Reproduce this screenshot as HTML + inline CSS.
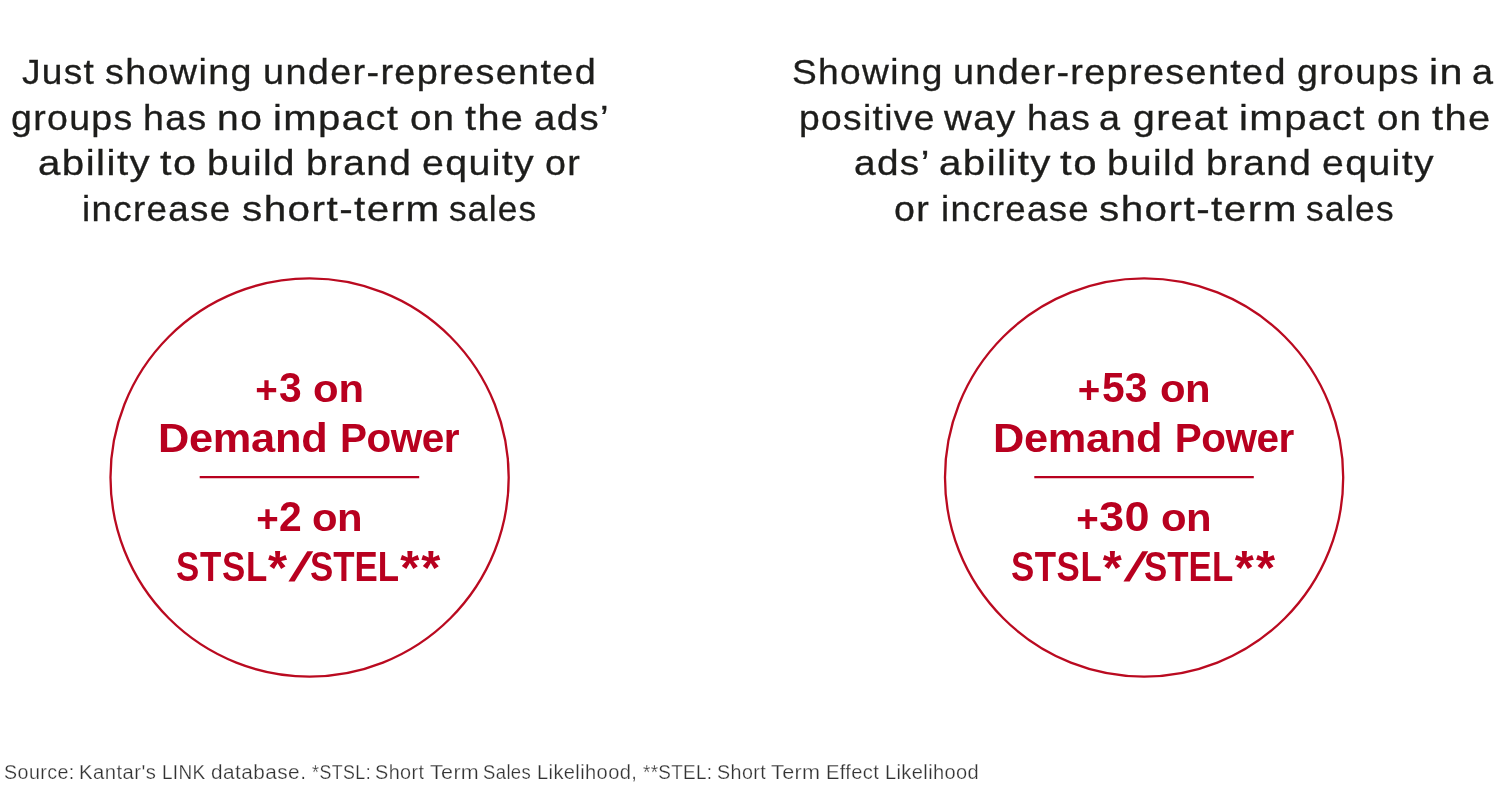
<!DOCTYPE html>
<html lang="en">
<head>
<meta charset="utf-8">
<title>Under-represented groups in ads</title>
<style>
html,body{margin:0;padding:0;background:#fff}
body{width:1500px;height:800px;position:relative;overflow:hidden;font-family:"Liberation Sans",sans-serif}
.ln{margin:0;padding:0;line-height:1}
.w{position:absolute;white-space:pre;line-height:1}
.h{color:#1d1d1b;font-weight:400;font-size:35.0px;-webkit-text-stroke:0.3px #1d1d1b}
.h .w{transform:scaleX(1.08);transform-origin:0 50%}
.b{color:#b8001f;font-weight:700;font-size:40.5px;-webkit-text-stroke:0}
.f{color:#333333;font-weight:400;font-size:20.0px;-webkit-text-stroke:0.25px #fff}
#art{position:absolute;left:0;top:0;width:1500px;height:800px;overflow:visible}
#h1a0{left:21.85px;top:54.37px;letter-spacing:1.210px;transform:scaleX(1.0606);transform-origin:0 50%}
#h1a1{left:105.27px;top:54.37px;letter-spacing:1.253px;transform:scaleX(1.0773);transform-origin:0 50%}
#h1a2{left:262.75px;top:54.37px;letter-spacing:1.256px}
#h1b0{left:10.93px;top:100.37px;letter-spacing:1.237px;transform:scaleX(1.0716);transform-origin:0 50%}
#h1b1{left:143.01px;top:100.37px;letter-spacing:1.273px;transform:scaleX(1.0703);transform-origin:0 50%}
#h1b2{left:216.83px;top:100.37px;letter-spacing:1.349px;transform:scaleX(1.1133);transform-origin:0 50%}
#h1b3{left:272.53px;top:100.37px;letter-spacing:1.229px;transform:scaleX(1.1442);transform-origin:0 50%}
#h1b4{left:409.96px;top:100.37px;letter-spacing:1.067px;transform:scaleX(1.1013);transform-origin:0 50%}
#h1b5{left:464.71px;top:100.37px;letter-spacing:1.188px;transform:scaleX(1.1343);transform-origin:0 50%}
#h1b6{left:533.94px;top:100.37px;letter-spacing:1.277px;transform:scaleX(1.0970);transform-origin:0 50%}
#h1c0{left:37.77px;top:145.37px;letter-spacing:1.283px;transform:scaleX(1.1491);transform-origin:0 50%}
#h1c1{left:159.69px;top:145.37px;letter-spacing:1.265px;transform:scaleX(1.1785);transform-origin:0 50%}
#h1c2{left:206.83px;top:145.37px;letter-spacing:1.168px;transform:scaleX(1.1132);transform-origin:0 50%}
#h1c3{left:306.30px;top:145.37px;letter-spacing:1.230px;transform:scaleX(1.1092);transform-origin:0 50%}
#h1c4{left:422.27px;top:145.37px;letter-spacing:1.235px;transform:scaleX(1.1216);transform-origin:0 50%}
#h1c5{left:545.02px;top:145.37px;letter-spacing:1.176px;transform:scaleX(1.0748);transform-origin:0 50%}
#h1d0{left:82.33px;top:191.37px;letter-spacing:1.250px;transform:scaleX(1.0500);transform-origin:0 50%}
#h1d1{left:241.93px;top:191.37px;letter-spacing:1.239px;transform:scaleX(1.1564);transform-origin:0 50%}
#h1d2{left:448.82px;top:191.37px;letter-spacing:1.175px;transform:scaleX(1.0087);transform-origin:0 50%}
#h2a0{left:792.39px;top:54.37px;letter-spacing:1.255px;transform:scaleX(1.0606);transform-origin:0 50%}
#h2a1{left:953.26px;top:54.37px;letter-spacing:1.252px;transform:scaleX(1.0795);transform-origin:0 50%}
#h2a2{left:1296.86px;top:54.37px;letter-spacing:1.250px;transform:scaleX(1.0736);transform-origin:0 50%}
#h2a3{left:1429.17px;top:54.37px;letter-spacing:1.172px;transform:scaleX(1.1803);transform-origin:0 50%}
#h2a4{left:1472.08px;top:54.37px;letter-spacing:0.000px}
#h2b0{left:798.87px;top:100.37px;letter-spacing:1.251px;transform:scaleX(1.0632);transform-origin:0 50%}
#h2b1{left:944.40px;top:100.37px;letter-spacing:1.202px;transform:scaleX(1.1010);transform-origin:0 50%}
#h2b2{left:1027.00px;top:100.37px;letter-spacing:1.278px;transform:scaleX(1.0646);transform-origin:0 50%}
#h2b3{left:1098.74px;top:100.37px;letter-spacing:0.000px}
#h2b4{left:1132.85px;top:100.37px;letter-spacing:1.228px;transform:scaleX(1.1187);transform-origin:0 50%}
#h2b5{left:1239.04px;top:100.37px;letter-spacing:1.226px;transform:scaleX(1.1482);transform-origin:0 50%}
#h2b6{left:1376.96px;top:100.37px;letter-spacing:1.067px;transform:scaleX(1.1013);transform-origin:0 50%}
#h2b7{left:1431.67px;top:100.37px;letter-spacing:1.211px;transform:scaleX(1.1402);transform-origin:0 50%}
#h2c0{left:854.41px;top:145.37px;letter-spacing:1.235px;transform:scaleX(1.1080);transform-origin:0 50%}
#h2c1{left:938.85px;top:145.37px;letter-spacing:1.226px;transform:scaleX(1.1510);transform-origin:0 50%}
#h2c2{left:1060.23px;top:145.37px;letter-spacing:1.374px;transform:scaleX(1.2000);transform-origin:0 50%}
#h2c3{left:1107.22px;top:145.37px;letter-spacing:1.292px;transform:scaleX(1.1092);transform-origin:0 50%}
#h2c4{left:1206.19px;top:145.37px;letter-spacing:1.250px;transform:scaleX(1.1095);transform-origin:0 50%}
#h2c5{left:1322.24px;top:145.37px;letter-spacing:1.294px;transform:scaleX(1.1177);transform-origin:0 50%}
#h2d0{left:894.02px;top:191.37px;letter-spacing:1.176px;transform:scaleX(1.0748);transform-origin:0 50%}
#h2d1{left:941.04px;top:191.37px;letter-spacing:1.228px;transform:scaleX(1.0482);transform-origin:0 50%}
#h2d2{left:1099.03px;top:191.37px;letter-spacing:1.253px;transform:scaleX(1.1559);transform-origin:0 50%}
#h2d3{left:1306.01px;top:191.37px;letter-spacing:1.288px;transform:scaleX(1.0089);transform-origin:0 50%}
#c1a0{left:255.29px;top:371.41px;letter-spacing:0.000px;font-size:38.5px}
#c1a1{left:278.82px;top:367.02px;letter-spacing:0.000px;font-size:42.5px;transform:scaleX(0.9600);transform-origin:0 50%}
#c1a2{left:312.92px;top:368.56px;letter-spacing:-0.171px;font-size:39.5px;transform:scaleX(1.0600);transform-origin:0 50%}
#c1b0{left:158.26px;top:417.72px;letter-spacing:-0.254px;-webkit-text-stroke:0;transform:scaleX(1.0700);transform-origin:0 50%}
#c1b1{left:339.98px;top:417.72px;letter-spacing:-0.501px}
#c1c0{left:256.20px;top:500.41px;letter-spacing:0.000px;font-size:38.5px}
#c1c1{left:278.89px;top:496.02px;letter-spacing:0.000px;font-size:42.5px;transform:scaleX(0.9600);transform-origin:0 50%}
#c1c2{left:311.69px;top:497.56px;letter-spacing:-0.635px;font-size:39.5px;transform:scaleX(1.0600);transform-origin:0 50%}
#c1d0{left:175.94px;top:546.02px;letter-spacing:0.879px;-webkit-text-stroke:0;font-size:42.5px;transform:scaleX(0.8200);transform-origin:0 50%}
#c1d1{left:268.10px;top:542.52px;letter-spacing:0.000px;font-size:49.0px}
#c1d2{left:290.25px;top:547.29px;letter-spacing:0.000px;font-weight:400;-webkit-text-stroke:0;font-size:41.0px;transform:skewX(-6deg) scaleX(1.9);transform-origin:0 50%}
#c1d3{left:309.56px;top:546.02px;letter-spacing:0.003px;-webkit-text-stroke:0;font-size:42.5px;transform:scaleX(0.8200);transform-origin:0 50%}
#c1d4{left:400.22px;top:542.52px;letter-spacing:2.083px;font-size:49.0px}
#c2a0{left:1077.76px;top:371.41px;letter-spacing:0.000px;font-size:38.5px}
#c2a1{left:1101.65px;top:367.02px;letter-spacing:0.091px;font-size:42.5px;transform:scaleX(0.9600);transform-origin:0 50%}
#c2a2{left:1160.02px;top:368.56px;letter-spacing:-0.460px;font-size:39.5px;transform:scaleX(1.0600);transform-origin:0 50%}
#c2b0{left:993.13px;top:417.72px;letter-spacing:-0.290px;-webkit-text-stroke:0;transform:scaleX(1.0700);transform-origin:0 50%}
#c2b1{left:1174.75px;top:417.72px;letter-spacing:-0.495px}
#c2c0{left:1076.21px;top:500.41px;letter-spacing:0.000px;font-size:38.5px}
#c2c1{left:1099.02px;top:496.02px;letter-spacing:0.461px;font-size:42.5px;transform:scaleX(1.0600);transform-origin:0 50%}
#c2c2{left:1161.36px;top:497.56px;letter-spacing:-0.545px;font-size:39.5px;transform:scaleX(1.0600);transform-origin:0 50%}
#c2d0{left:1010.79px;top:546.02px;letter-spacing:0.654px;-webkit-text-stroke:0;font-size:42.5px;transform:scaleX(0.8200);transform-origin:0 50%}
#c2d1{left:1102.75px;top:542.52px;letter-spacing:0.000px;font-size:49.0px}
#c2d2{left:1125.10px;top:547.29px;letter-spacing:0.000px;font-weight:400;-webkit-text-stroke:0;font-size:41.0px;transform:skewX(-6deg) scaleX(1.9);transform-origin:0 50%}
#c2d3{left:1143.82px;top:546.02px;letter-spacing:0.050px;-webkit-text-stroke:0;font-size:42.5px;transform:scaleX(0.8200);transform-origin:0 50%}
#c2d4{left:1234.72px;top:542.52px;letter-spacing:2.251px;font-size:49.0px}
#ft0{left:3.98px;top:762.37px;letter-spacing:0.436px;transform:scaleX(0.9828);transform-origin:0 50%}
#ft1{left:78.79px;top:762.37px;letter-spacing:0.461px;transform:scaleX(1.0116);transform-origin:0 50%}
#ft2{left:161.73px;top:762.37px;letter-spacing:0.352px;transform:scaleX(0.9477);transform-origin:0 50%}
#ft3{left:211.21px;top:762.37px;letter-spacing:0.434px;transform:scaleX(1.0392);transform-origin:0 50%}
#ft4{left:312.04px;top:762.37px;letter-spacing:0.517px;transform:scaleX(0.8895);transform-origin:0 50%}
#ft5{left:375.43px;top:762.37px;letter-spacing:0.420px;transform:scaleX(0.9928);transform-origin:0 50%}
#ft6{left:429.61px;top:762.37px;letter-spacing:0.311px;transform:scaleX(1.0751);transform-origin:0 50%}
#ft7{left:483.40px;top:762.37px;letter-spacing:0.416px;transform:scaleX(0.9242);transform-origin:0 50%}
#ft8{left:537.22px;top:762.37px;letter-spacing:0.386px;transform:scaleX(1.0034);transform-origin:0 50%}
#ft9{left:643.11px;top:762.37px;letter-spacing:0.341px;transform:scaleX(0.9440);transform-origin:0 50%}
#ft10{left:716.57px;top:762.37px;letter-spacing:0.400px;transform:scaleX(0.9853);transform-origin:0 50%}
#ft11{left:770.61px;top:762.37px;letter-spacing:0.333px;transform:scaleX(1.0803);transform-origin:0 50%}
#ft12{left:825.71px;top:762.37px;letter-spacing:0.350px;transform:scaleX(1.0065);transform-origin:0 50%}
#ft13{left:884.51px;top:762.37px;letter-spacing:0.372px;transform:scaleX(1.0034);transform-origin:0 50%}
</style>
</head>
<body>
<svg id="art" width="1500" height="800" viewBox="0 0 1500 800" aria-hidden="true">
<g fill="none" stroke="#ba0a20" stroke-width="2.3">
<circle id="cl" cx="309.6" cy="477.5" r="199.1"/>
<circle id="cr" cx="1144.1" cy="477.5" r="199.1"/>
</g>
<g stroke="#b8001f" stroke-width="2.2">
<line id="rl" x1="199.7" y1="477.15" x2="419.2" y2="477.15"/>
<line id="rr" x1="1034.3" y1="477.15" x2="1253.8" y2="477.15"/>
</g>
</svg>
<p class="ln h" id="h1a"><span class="w" id="h1a0">Just </span><span class="w" id="h1a1">showing </span><span class="w" id="h1a2">under-represented</span></p>
<p class="ln h" id="h1b"><span class="w" id="h1b0">groups </span><span class="w" id="h1b1">has </span><span class="w" id="h1b2">no </span><span class="w" id="h1b3">impact </span><span class="w" id="h1b4">on </span><span class="w" id="h1b5">the </span><span class="w" id="h1b6">ads’</span></p>
<p class="ln h" id="h1c"><span class="w" id="h1c0">ability </span><span class="w" id="h1c1">to </span><span class="w" id="h1c2">build </span><span class="w" id="h1c3">brand </span><span class="w" id="h1c4">equity </span><span class="w" id="h1c5">or</span></p>
<p class="ln h" id="h1d"><span class="w" id="h1d0">increase </span><span class="w" id="h1d1">short-term </span><span class="w" id="h1d2">sales</span></p>
<p class="ln h" id="h2a"><span class="w" id="h2a0">Showing </span><span class="w" id="h2a1">under-represented </span><span class="w" id="h2a2">groups </span><span class="w" id="h2a3">in </span><span class="w" id="h2a4">a</span></p>
<p class="ln h" id="h2b"><span class="w" id="h2b0">positive </span><span class="w" id="h2b1">way </span><span class="w" id="h2b2">has </span><span class="w" id="h2b3">a </span><span class="w" id="h2b4">great </span><span class="w" id="h2b5">impact </span><span class="w" id="h2b6">on </span><span class="w" id="h2b7">the</span></p>
<p class="ln h" id="h2c"><span class="w" id="h2c0">ads’ </span><span class="w" id="h2c1">ability </span><span class="w" id="h2c2">to </span><span class="w" id="h2c3">build </span><span class="w" id="h2c4">brand </span><span class="w" id="h2c5">equity</span></p>
<p class="ln h" id="h2d"><span class="w" id="h2d0">or </span><span class="w" id="h2d1">increase </span><span class="w" id="h2d2">short-term </span><span class="w" id="h2d3">sales</span></p>
<p class="ln b" id="c1a"><span class="w" id="c1a0">+</span><span class="w" id="c1a1">3 </span><span class="w" id="c1a2">on</span></p>
<p class="ln b" id="c1b"><span class="w" id="c1b0">Demand </span><span class="w" id="c1b1">Power</span></p>
<p class="ln b" id="c1c"><span class="w" id="c1c0">+</span><span class="w" id="c1c1">2 </span><span class="w" id="c1c2">on</span></p>
<p class="ln b" id="c1d"><span class="w" id="c1d0">STSL</span><span class="w" id="c1d1">*</span><span class="w" id="c1d2">/</span><span class="w" id="c1d3">STEL</span><span class="w" id="c1d4">**</span></p>
<p class="ln b" id="c2a"><span class="w" id="c2a0">+</span><span class="w" id="c2a1">53 </span><span class="w" id="c2a2">on</span></p>
<p class="ln b" id="c2b"><span class="w" id="c2b0">Demand </span><span class="w" id="c2b1">Power</span></p>
<p class="ln b" id="c2c"><span class="w" id="c2c0">+</span><span class="w" id="c2c1">30 </span><span class="w" id="c2c2">on</span></p>
<p class="ln b" id="c2d"><span class="w" id="c2d0">STSL</span><span class="w" id="c2d1">*</span><span class="w" id="c2d2">/</span><span class="w" id="c2d3">STEL</span><span class="w" id="c2d4">**</span></p>
<p class="ln f" id="ft"><span class="w" id="ft0">Source: </span><span class="w" id="ft1">Kantar's </span><span class="w" id="ft2">LINK </span><span class="w" id="ft3">database. </span><span class="w" id="ft4">*STSL: </span><span class="w" id="ft5">Short </span><span class="w" id="ft6">Term </span><span class="w" id="ft7">Sales </span><span class="w" id="ft8">Likelihood, </span><span class="w" id="ft9">**STEL: </span><span class="w" id="ft10">Short </span><span class="w" id="ft11">Term </span><span class="w" id="ft12">Effect </span><span class="w" id="ft13">Likelihood</span></p>
</body>
</html>
